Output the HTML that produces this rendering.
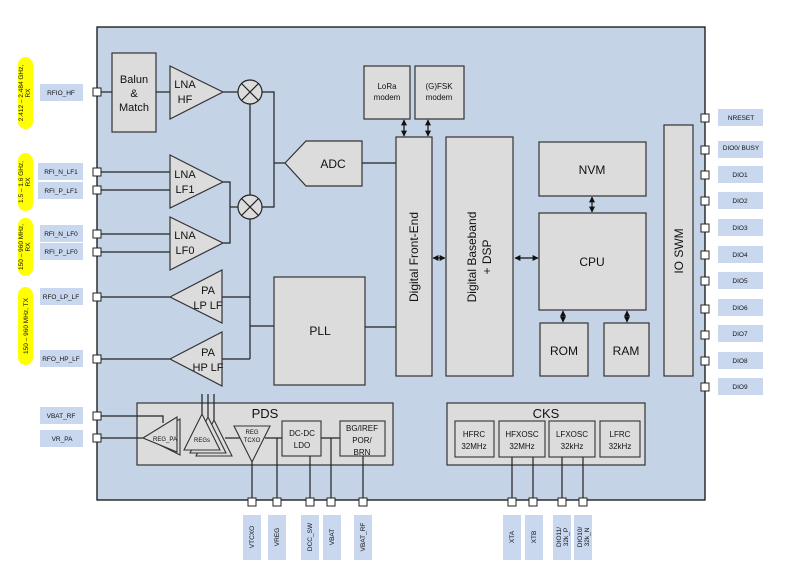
<!DOCTYPE html>
<html><head><meta charset="utf-8"><style>
html,body{margin:0;padding:0;background:#fff;width:794px;height:583px;overflow:hidden}
svg{display:block}
text{font-family:"Liberation Sans",sans-serif;fill:#111}
</style></head><body>
<svg width="794" height="583" viewBox="0 0 794 583" xmlns="http://www.w3.org/2000/svg">
<defs>
<marker id="ah" viewBox="0 0 10 10" refX="9" refY="5" markerWidth="5" markerHeight="5" orient="auto-start-reverse"><path d="M0,0 L10,5 L0,10 z" fill="#111"/></marker>
</defs>
<rect x="97" y="27" width="608" height="473" fill="#c5d3e6" stroke="#111" stroke-width="1.3"/>

<g fill="#ffff00">
<rect x="18" y="57" width="15" height="72" rx="7.5"/>
<rect x="18" y="153" width="15" height="58" rx="7.5"/>
<rect x="18" y="218" width="15" height="58" rx="7.5"/>
<rect x="18" y="287" width="15" height="78" rx="7.5"/>
</g>
<g font-size="6.5" text-anchor="middle">
<text transform="translate(23,93) rotate(-90)">2.412 – 2.484 GHz,</text>
<text transform="translate(30,93) rotate(-90)">RX</text>
<text transform="translate(23,182) rotate(-90)">1.5 – 1.6 GHz,</text>
<text transform="translate(30,182) rotate(-90)">RX</text>
<text transform="translate(23,247) rotate(-90)">150 – 960 MHz,</text>
<text transform="translate(30,247) rotate(-90)">RX</text>
<text transform="translate(28,326) rotate(-90)">150 – 960 MHz, TX</text>
</g>

<g fill="#c9d8ef">
<rect x="40" y="84" width="43" height="17"/>
<rect x="38" y="163" width="45" height="17"/>
<rect x="38" y="182" width="45" height="17"/>
<rect x="40" y="225" width="43" height="17"/>
<rect x="40" y="243" width="43" height="17"/>
<rect x="40" y="288" width="43" height="17"/>
<rect x="40" y="350" width="43" height="17"/>
<rect x="40" y="407" width="43" height="17"/>
<rect x="40" y="430" width="43" height="17"/>
</g>
<g font-size="6.5" text-anchor="middle">
<text x="61" y="95">RFIO_HF</text>
<text x="61" y="174">RFI_N_LF1</text>
<text x="61" y="193">RFI_P_LF1</text>
<text x="61" y="236">RFI_N_LF0</text>
<text x="61" y="254">RFI_P_LF0</text>
<text x="61" y="299">RFO_LP_LF</text>
<text x="61" y="361">RFO_HP_LF</text>
<text x="61" y="418">VBAT_RF</text>
<text x="62" y="441">VR_PA</text>
</g>

<g fill="#c9d8ef">
<rect x="718" y="109" width="45" height="17"/>
<rect x="718" y="141" width="45" height="17"/>
<rect x="718" y="166" width="45" height="17"/>
<rect x="718" y="192" width="45" height="17"/>
<rect x="718" y="219" width="45" height="17"/>
<rect x="718" y="246" width="45" height="17"/>
<rect x="718" y="272" width="45" height="17"/>
<rect x="718" y="299" width="45" height="17"/>
<rect x="718" y="325" width="45" height="17"/>
<rect x="718" y="352" width="45" height="17"/>
<rect x="718" y="378" width="45" height="17"/>
</g>
<g font-size="6.5" text-anchor="middle">
<text x="741" y="120">NRESET</text>
<text x="741" y="150">DIO0/ BUSY</text>
<text x="740" y="177">DIO1</text>
<text x="740" y="203">DIO2</text>
<text x="740" y="230">DIO3</text>
<text x="740" y="257">DIO4</text>
<text x="740" y="283">DIO5</text>
<text x="740" y="310">DIO6</text>
<text x="740" y="336">DIO7</text>
<text x="740" y="363">DIO8</text>
<text x="740" y="389">DIO9</text>
</g>

<g fill="#c9d8ef">
<rect x="243" y="515" width="18" height="45"/>
<rect x="268" y="515" width="18" height="45"/>
<rect x="301" y="515" width="18" height="45"/>
<rect x="323" y="515" width="18" height="45"/>
<rect x="354" y="515" width="18" height="45"/>
<rect x="503" y="515" width="18" height="45"/>
<rect x="525" y="515" width="18" height="45"/>
<rect x="553" y="515" width="18" height="45"/>
<rect x="574" y="515" width="18" height="45"/>
</g>
<g font-size="6.5" text-anchor="middle">
<text transform="translate(254,537) rotate(-90)">VTCXO</text>
<text transform="translate(279,537) rotate(-90)">VREG</text>
<text transform="translate(312,537) rotate(-90)">DCC_SW</text>
<text transform="translate(334,537) rotate(-90)">VBAT</text>
<text transform="translate(365,537) rotate(-90)">VBAT_RF</text>
<text transform="translate(514,537) rotate(-90)">XTA</text>
<text transform="translate(536,537) rotate(-90)">XTB</text>
<text transform="translate(561,537) rotate(-90)">DIO11/</text>
<text transform="translate(568,537) rotate(-90)">32k_P</text>
<text transform="translate(582,537) rotate(-90)">DIO10/</text>
<text transform="translate(589,537) rotate(-90)">32k_N</text>
</g>

<g stroke="#222" stroke-width="1.2" fill="none">
<line x1="97" y1="92" x2="112" y2="92"/>
<line x1="156" y1="92" x2="170" y2="92"/>
<line x1="223" y1="92" x2="238" y2="92"/>
<line x1="97" y1="172" x2="170" y2="172"/>
<line x1="97" y1="190" x2="170" y2="190"/>
<line x1="97" y1="234" x2="170" y2="234"/>
<line x1="97" y1="252" x2="170" y2="252"/>
<polyline points="223,182 230,182 230,243 223,243"/>
<line x1="230" y1="207" x2="238" y2="207"/>
<line x1="250" y1="104" x2="250" y2="195"/>
<line x1="250" y1="219" x2="250" y2="359"/>
<polyline points="262,92 274,92 274,207 262,207"/>
<line x1="274" y1="163" x2="285" y2="163"/>
<line x1="97" y1="297" x2="170" y2="297"/>
<line x1="97" y1="359" x2="170" y2="359"/>
<line x1="222" y1="297" x2="250" y2="297"/>
<line x1="222" y1="359" x2="250" y2="359"/>
<line x1="250" y1="326" x2="274" y2="326"/>
<line x1="362" y1="163" x2="396" y2="163"/>
<line x1="365" y1="327" x2="396" y2="327"/>
<line x1="97" y1="416" x2="137" y2="416"/>
<line x1="97" y1="438" x2="137" y2="438"/>
</g>
<g stroke="#111" stroke-width="1.2" marker-start="url(#ah)" marker-end="url(#ah)">
<line x1="404" y1="120" x2="404" y2="136"/>
<line x1="428" y1="120" x2="428" y2="136"/>
<line x1="433" y1="258" x2="445" y2="258"/>
<line x1="515" y1="258" x2="538" y2="258"/>
<line x1="592" y1="197" x2="592" y2="212"/>
<line x1="563" y1="311" x2="563" y2="322"/>
<line x1="627" y1="311" x2="627" y2="322"/>
</g>

<g fill="#dcdcdc" stroke="#333" stroke-width="1.2">
<rect x="112" y="53" width="44" height="79"/>
<polygon points="170,66 223,92 170,119"/>
<polygon points="170,155 223,182 170,208"/>
<polygon points="170,217 223,243 170,270"/>
<polygon points="170,297 222,270 222,323"/>
<polygon points="170,359 222,332 222,386"/>
<polygon points="285,163 306,141 362,141 362,186 306,186"/>
<rect x="274" y="277" width="91" height="108"/>
<rect x="364" y="66" width="46" height="53"/>
<rect x="415" y="66" width="49" height="53"/>
<rect x="396" y="137" width="36" height="239"/>
<rect x="446" y="137" width="67" height="239"/>
<rect x="539" y="142" width="107" height="54"/>
<rect x="539" y="213" width="107" height="97"/>
<rect x="540" y="323" width="48" height="53"/>
<rect x="604" y="323" width="45" height="53"/>
<rect x="664" y="125" width="29" height="251"/>
<rect x="137" y="403" width="256" height="62"/>
<rect x="447" y="403" width="198" height="62"/>
</g>
<!-- wires inside PDS/CKS (drawn over boxes) -->
<g stroke="#222" stroke-width="1.2" fill="none">
<polyline points="137,416 163,416 163,423"/>
<line x1="137" y1="438" x2="143" y2="438"/>
<line x1="202" y1="394" x2="202" y2="414"/>
<line x1="208" y1="394" x2="208" y2="417"/>
<line x1="214" y1="394" x2="214" y2="420"/>
<line x1="225" y1="438" x2="240" y2="438"/>
<line x1="265" y1="438" x2="282" y2="438"/>
<line x1="321" y1="438" x2="340" y2="438"/>
<line x1="252" y1="462" x2="252" y2="502"/>
<line x1="277" y1="438" x2="277" y2="502"/>
<line x1="310" y1="456" x2="310" y2="502"/>
<line x1="331" y1="438" x2="331" y2="502"/>
<line x1="363" y1="456" x2="363" y2="502"/>
<line x1="512" y1="457" x2="512" y2="502"/>
<line x1="533" y1="457" x2="533" y2="502"/>
<line x1="562" y1="457" x2="562" y2="502"/>
<line x1="583" y1="457" x2="583" y2="502"/>
</g>
<g fill="#dcdcdc" stroke="#333" stroke-width="1.1">
<polygon points="146,438 180,419 180,455"/>
<polygon points="143,438 177,417 177,452"/>
<polygon points="214,420 232,456 196,456"/>
<polygon points="208,417 226,453 190,453"/>
<polygon points="202,414 220,450 184,450"/>
<polygon points="234,426 270,426 252,462"/>
<rect x="282" y="421" width="39" height="35"/>
<rect x="340" y="421" width="45" height="35"/>
<rect x="455" y="421" width="39" height="36"/>
<rect x="499" y="421" width="46" height="36"/>
<rect x="549" y="421" width="46" height="36"/>
<rect x="600" y="421" width="40" height="36"/>
</g>
<g stroke="#222" stroke-width="1.2" fill="#dcdcdc">
<circle cx="250" cy="92" r="12"/>
<circle cx="250" cy="207" r="12"/>
<path d="M241.5,83.5 L258.5,100.5 M258.5,83.5 L241.5,100.5 M241.5,198.5 L258.5,215.5 M258.5,198.5 L241.5,215.5" fill="none"/>
</g>

<g fill="#fff" stroke="#222" stroke-width="1">
<rect x="93" y="88" width="8" height="8"/>
<rect x="93" y="168" width="8" height="8"/>
<rect x="93" y="186" width="8" height="8"/>
<rect x="93" y="230" width="8" height="8"/>
<rect x="93" y="248" width="8" height="8"/>
<rect x="93" y="293" width="8" height="8"/>
<rect x="93" y="355" width="8" height="8"/>
<rect x="93" y="412" width="8" height="8"/>
<rect x="93" y="434" width="8" height="8"/>
<rect x="701" y="114" width="8" height="8"/>
<rect x="701" y="146" width="8" height="8"/>
<rect x="701" y="171" width="8" height="8"/>
<rect x="701" y="197" width="8" height="8"/>
<rect x="701" y="224" width="8" height="8"/>
<rect x="701" y="251" width="8" height="8"/>
<rect x="701" y="277" width="8" height="8"/>
<rect x="701" y="305" width="8" height="8"/>
<rect x="701" y="331" width="8" height="8"/>
<rect x="701" y="357" width="8" height="8"/>
<rect x="701" y="383" width="8" height="8"/>
<rect x="248" y="498" width="8" height="8"/>
<rect x="273" y="498" width="8" height="8"/>
<rect x="306" y="498" width="8" height="8"/>
<rect x="327" y="498" width="8" height="8"/>
<rect x="359" y="498" width="8" height="8"/>
<rect x="508" y="498" width="8" height="8"/>
<rect x="529" y="498" width="8" height="8"/>
<rect x="558" y="498" width="8" height="8"/>
<rect x="579" y="498" width="8" height="8"/>
</g>

<g text-anchor="middle" font-size="11">
<text x="134" y="83">Balun</text>
<text x="134" y="97">&amp;</text>
<text x="134" y="111">Match</text>
<text x="185" y="88">LNA</text>
<text x="185" y="103">HF</text>
<text x="185" y="178">LNA</text>
<text x="185" y="193">LF1</text>
<text x="185" y="239">LNA</text>
<text x="185" y="254">LF0</text>
<text x="208" y="294">PA</text>
<text x="208" y="309">LP LF</text>
<text x="208" y="356">PA</text>
<text x="208" y="371">HP LF</text>
<text x="333" y="168" font-size="12">ADC</text>
<text x="320" y="335" font-size="12">PLL</text>
<text x="592" y="174" font-size="12">NVM</text>
<text x="592" y="266" font-size="12">CPU</text>
<text x="564" y="355" font-size="12">ROM</text>
<text x="626" y="355" font-size="12">RAM</text>
<text x="265" y="418" font-size="13">PDS</text>
<text x="546" y="418" font-size="13">CKS</text>
</g>
<g text-anchor="middle" font-size="8">
<text x="387" y="89">LoRa</text>
<text x="387" y="100">modem</text>
<text x="439" y="89">(G)FSK</text>
<text x="439" y="100">modem</text>
<text x="302" y="436">DC-DC</text>
<text x="302" y="448">LDO</text>
<text x="362" y="431">BG/IREF</text>
<text x="362" y="443">POR/</text>
<text x="362" y="455">BRN</text>
<text x="474" y="437">HFRC</text>
<text x="474" y="449">32MHz</text>
<text x="522" y="437">HFXOSC</text>
<text x="522" y="449">32MHz</text>
<text x="572" y="437">LFXOSC</text>
<text x="572" y="449">32kHz</text>
<text x="620" y="437">LFRC</text>
<text x="620" y="449">32kHz</text>
</g>
<g text-anchor="middle" font-size="6">
<text x="165" y="441">REG_PA</text>
<text x="202" y="442">REGs</text>
<text x="252" y="434">REG</text>
<text x="252" y="442">TCXO</text>
</g>
<g text-anchor="middle" font-size="12">
<text transform="translate(418,257) rotate(-90)">Digital Front-End</text>
<text transform="translate(476,257) rotate(-90)">Digital Baseband</text>
<text transform="translate(491,257) rotate(-90)">+ DSP</text>
<text transform="translate(683,251) rotate(-90)">IO SWM</text>
</g>
</svg>
</body></html>
